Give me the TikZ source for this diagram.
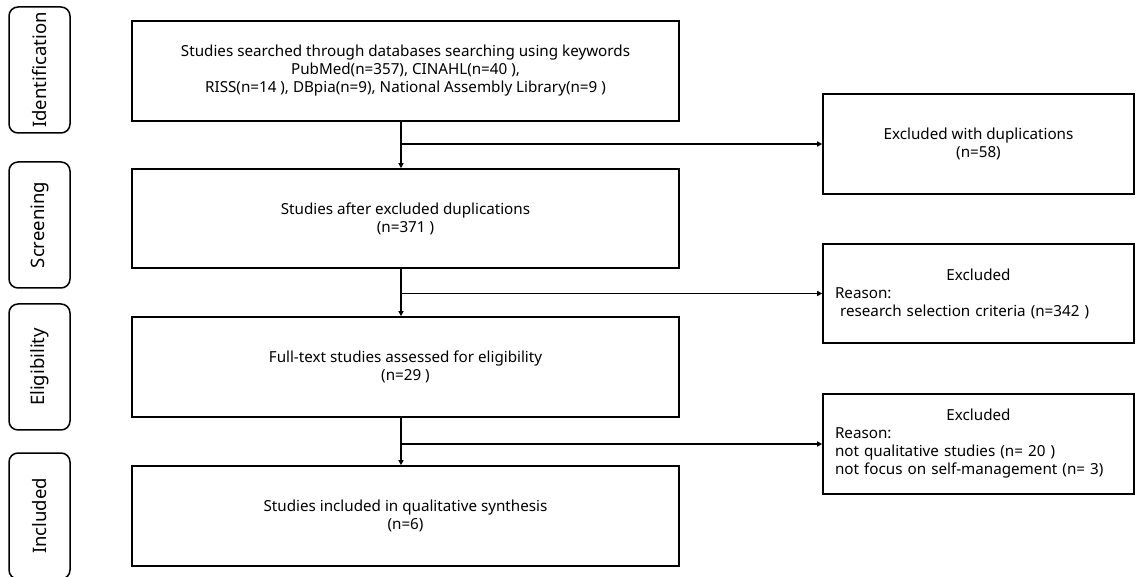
\documentclass[tikz,border=0pt]{standalone}
\usepackage{fontspec}
\setmainfont{Noto Sans}
\usetikzlibrary{arrows.meta}
\usetikzlibrary{positioning}

\begin{document}
\begin{tikzpicture}[x=1pt, y=-1pt,
		font=\fontsize{15.2}{18}\selectfont,
		mainbox/.style={draw, line width=1.6pt, minimum width=547pt, minimum height=100pt, align=center, inner sep=0pt},
		sidebox/.style={draw, line width=1.6pt, minimum width=311pt, minimum height=100pt, inner sep=0pt},
		reasonbox/.style={sidebox, text width=287pt, align=left},
		phasebox/.style={draw, line width=1.5pt, rounded corners=9pt, minimum width=126pt, minimum height=61pt, rotate=90, font=\fontsize{18.5}{20}\selectfont},
		flow/.style={line width=1.5pt, -{Triangle[length=5pt, width=5pt]}}]
	\useasboundingbox (0,0) rectangle (1136,577);
	% draw phase labels
	\node[phasebox] (pid) at (39.5,70) {Identification};
	\node[phasebox] (pscr) at (39.5,225) {Screening};
	\node[phasebox] (pelg) at (39.5,367) {Eligibility};
	\node[phasebox] (pinc) at (39.5,516) {Included};
	% draw main boxes
	\node[mainbox] (search) at (405.5,71) {Studies searched through databases searching using keywords\\PubMed(n=357), CINAHL(n=40 ),\\RISS(n=14 ), DBpia(n=9), National Assembly Library(n=9 )};
	\node[mainbox, minimum height=99pt] (screen) at (405.5,218.5) {Studies after excluded duplications\\(n=371 )};
	\node[mainbox] (full) at (405.5,367) {Full-text studies assessed for eligibility\\(n=29 )};
	\node[mainbox] (incl) at (405.5,516) {Studies included in qualitative synthesis\\(n=6)};
	% draw excluded boxes
	\node[sidebox, align=center] (dup) at (978.5,144) {Excluded with duplications\\(n=58)};
	\node[reasonbox, minimum height=99pt] (excl1) at (978.5,293.5) {\makebox[\linewidth]{Excluded}\\Reason:\\\ research selection criteria (n=342 )};
	\node[reasonbox] (excl2) at (978.5,444) {\makebox[\linewidth]{Excluded}\\Reason:\\not qualitative studies (n= 20 )\\not focus on self-management (n= 3)};
	% branch points
	\coordinate (b1) at (401,144);
	\coordinate (b2) at (401,293.5);
	\coordinate (b3) at (401,444);
	% draw connectors
	\draw[flow] (search.south -| b1) -- (screen.north -| b1);
	\draw[flow] (screen.south -| b2) -- (full.north -| b2);
	\draw[flow] (full.south -| b3) -- (incl.north -| b3);
	\draw[flow] (b1) -- (dup.west);
	\draw[flow] (b2) -- (excl1.west);
	\draw[flow] (b3) -- (excl2.west);
\end{tikzpicture}
\end{document}
